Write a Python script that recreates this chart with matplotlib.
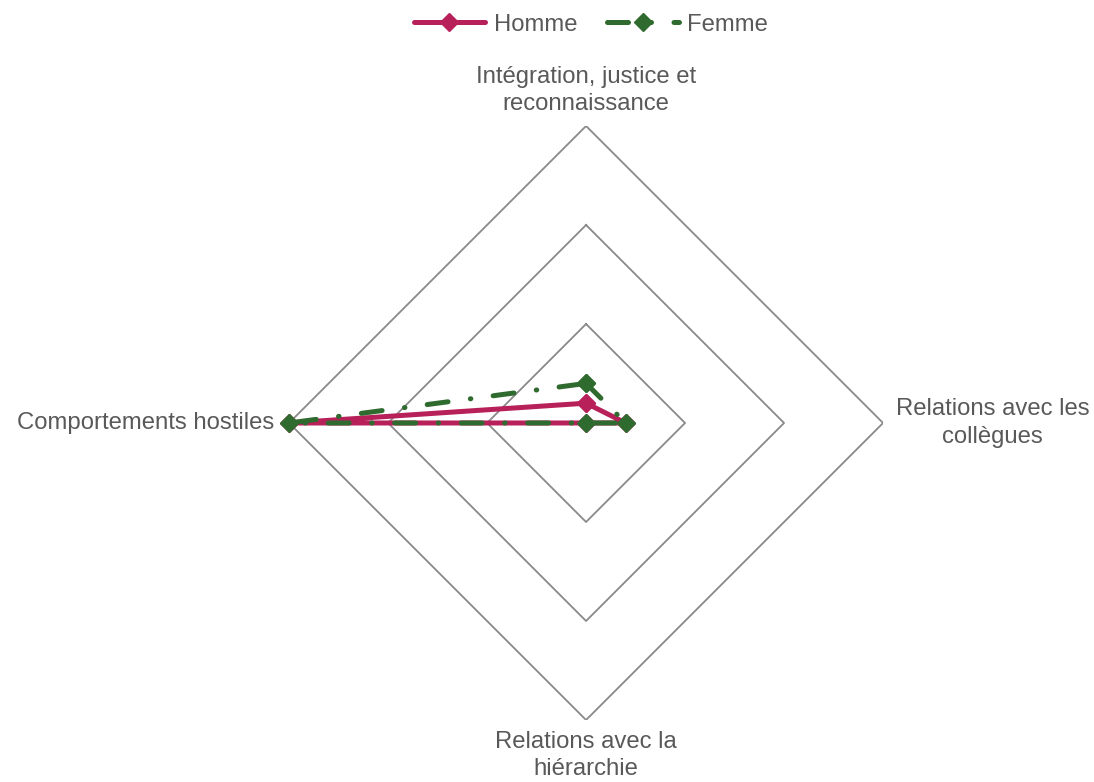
import matplotlib.pyplot as plt
import numpy as np

plt.rcParams['font.family'] = ['Liberation Sans', 'DejaVu Sans']

categories = ["Intégration, justice et\nreconnaissance", "Relations avec les\ncollègues",
              "Relations avec la\nhiérarchie", "Comportements hostiles"]
homme = [0.2, 0.4, 0.0, 3.0]
femme = [0.4, 0.4, 0.0, 3.0]
rings = [1, 2, 3]

txt = '#595959'
fig = plt.figure(figsize=(10.94, 7.82), dpi=100)
ax = fig.add_axes([0.2642, 0.0793, 0.543, 0.7596], projection='polar')
ax.set_theta_zero_location('N')
ax.set_theta_direction(-1)
ax.set_ylim(0, 3)
ax.grid(False)
ax.spines['polar'].set_visible(False)
ax.set_xticks([])
ax.set_yticks([])
ax.patch.set_alpha(0)

ang = np.linspace(0, 2 * np.pi, len(categories), endpoint=False)
ang_c = np.append(ang, ang[0])

# diamond grid
for r in rings:
    ax.plot(ang_c, [r] * len(ang_c), color='#898989', lw=1.3, zorder=1)

ax.plot(ang_c, homme + homme[:1], color='#B8205A', lw=3.6, marker='D', ms=9.5,
        solid_joinstyle='round', solid_capstyle='round', label='Homme',
        zorder=3, clip_on=False)
ax.plot(ang_c, femme + femme[:1], color='#2F6A2E', lw=3.6, marker='D', ms=9.5,
        dashes=(4.2, 4.5, 0.1, 4.5), dash_capstyle='round', label='Femme',
        zorder=4, clip_on=False)

# axis labels
offs = [(0, 8, 'center', 'bottom'), (9, 0, 'left', 'center'),
        (0, -8, 'center', 'top'), (-11, 0, 'right', 'center')]
for a, lab, (dx, dy, ha, va) in zip(ang, categories, offs):
    ax.annotate(lab, xy=(a, 3), xytext=(dx, dy), textcoords='offset points',
                ha=ha, va=va, multialignment='center', fontsize=17.2, color=txt,
                linespacing=1.3, annotation_clip=False)

fig.legend(loc='upper center', bbox_to_anchor=(0.54, 1.01), ncol=2, frameon=False,
           fontsize=17.2, labelcolor=txt, handlelength=3, handletextpad=0.35,
           columnspacing=1.25)

fig.savefig('out.png', dpi=100)
